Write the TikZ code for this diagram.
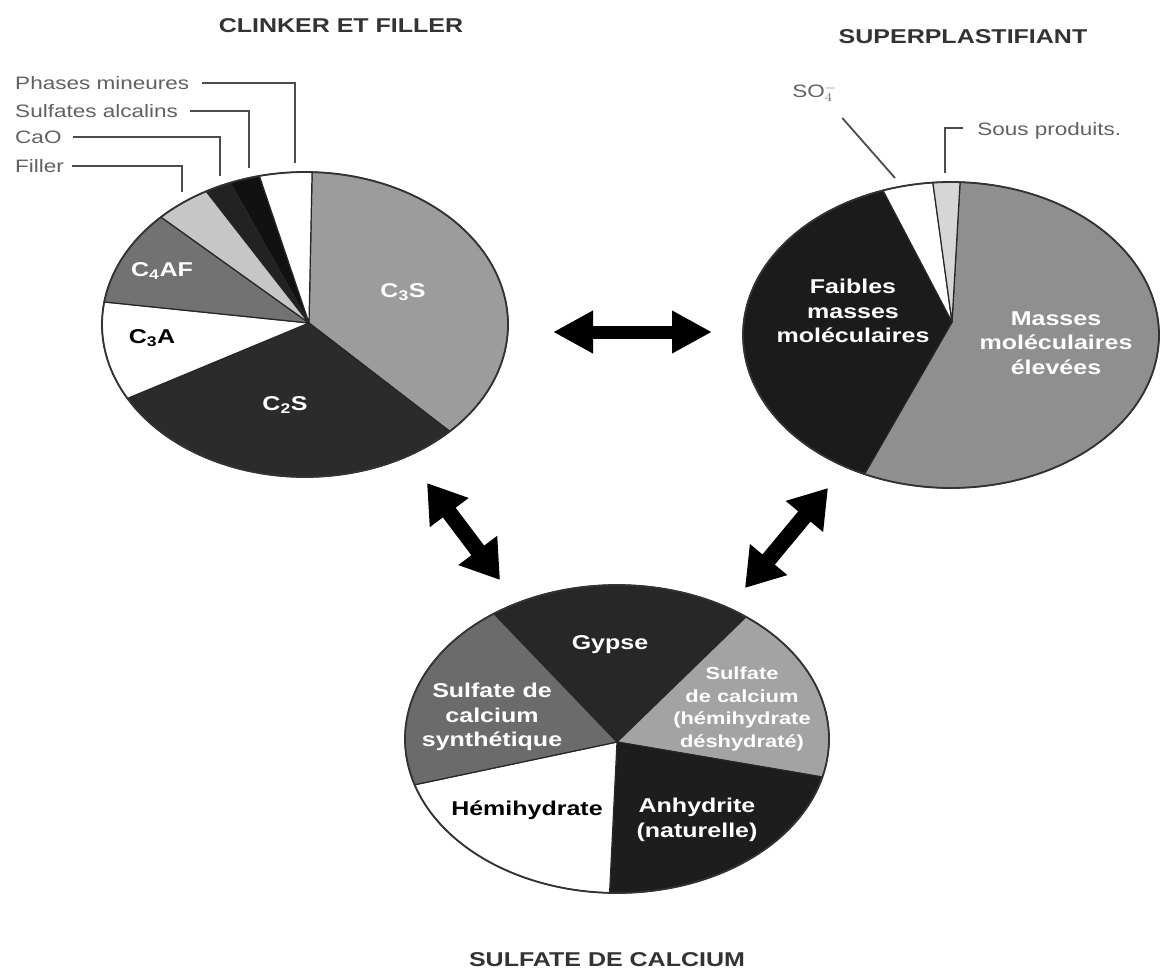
\documentclass[tikz,border=0pt]{standalone}
\usepackage{fontspec}
\setmainfont{Liberation Sans}
\usetikzlibrary{arrows.meta,calc}
\definecolor{gA}{HTML}{9C9C9C}
\definecolor{gB}{HTML}{2B2B2B}
\definecolor{gC}{HTML}{727272}
\definecolor{gD}{HTML}{C6C6C6}
\definecolor{gE}{HTML}{222222}
\definecolor{gF}{HTML}{111111}
\definecolor{gG}{HTML}{8F8F8F}
\definecolor{gH}{HTML}{1B1B1B}
\definecolor{gI}{HTML}{D6D6D6}
\definecolor{gJ}{HTML}{272727}
\definecolor{gK}{HTML}{A3A3A3}
\definecolor{gL}{HTML}{1D1D1D}
\definecolor{gM}{HTML}{6B6B6B}
\newcommand\pieslice[3]{\filldraw[slc,fill=#3] (pv) -- plot[domain=#1:#2,samples=60] ({\pcx+\prx*cos(\x)},{\pcy+\pry*sin(\x)}) -- cycle;}
\newcommand\pierim{\draw[rim] plot[domain=0:360,samples=180] ({\pcx+\prx*cos(\x)},{\pcy+\pry*sin(\x)}) -- cycle;}
\begin{document}
\begin{tikzpicture}[x=1pt,y=-1pt,
  slc/.style={draw=black!85,line width=1.2pt,line join=round},
  rim/.style={draw=black!80,line width=1.8pt},
  lab/.style={font=\bfseries\fontsize{20}{24.5}\selectfont,text=white,align=center,xscale=1.25,inner sep=0pt},
  labk/.style={lab,text=black},
  call/.style={font=\fontsize{18}{20}\selectfont,text=black!62,xscale=1.25,inner sep=0pt,anchor=west},
  leader/.style={draw=black!70,line width=1.8pt},
  ttl/.style={font=\bfseries\fontsize{20}{24}\selectfont,text=black!80,xscale=1.25,inner sep=0pt},
  dbl/.style={line width=13pt,{Triangle[length=40pt,width=40pt]}-{Triangle[length=40pt,width=40pt]}},
  dbld/.style={line width=16pt,{Triangle[length=37pt,width=46pt]}-{Triangle[length=37pt,width=46pt]}}]

\fill[white] (0,0) rectangle (1162,972);
\path[use as bounding box] (0,0) rectangle (1162,972);

% ---------- Pie 1 : clinker et filler ----------
\def\pcx{305}\def\pcy{324.5}\def\prx{203}\def\pry{152.5}
\coordinate (pv) at (309,323);
\pieslice{272}{404.5}{gA}
\pieslice{44.5}{151}{gB}
\pieslice{151}{188.5}{white}
\pieslice{188.5}{224.8}{gC}
\pieslice{224.8}{240.9}{gD}
\pieslice{240.9}{248.4}{gE}
\pieslice{248.4}{257}{gF}
\pieslice{257}{272}{white}
\pierim

\node[lab] (c3s) at (403,292) {C\textsubscript{3}S};
\node[lab] (c2s) at (285,405) {C\textsubscript{2}S};
\node[labk] (c3a) at (152,338) {C\textsubscript{3}A};
\node[lab] (c4af) at (162,271) {C\textsubscript{4}AF};

\node[call] (phm) at (15,83) {Phases mineures};
\node[call] (sal) at (15,111) {Sulfates alcalins};
\node[call] (cao) at (15,137) {CaO};
\node[call] (fil) at (15,166) {Filler};
\coordinate (phmEnd) at (295,163);
\coordinate (salEnd) at (249,168);
\coordinate (caoEnd) at (220,176);
\coordinate (filEnd) at (182,192);
\draw[leader] ([xshift=13pt]phm.east) -| (phmEnd);
\draw[leader] ([xshift=12pt]sal.east) -| (salEnd);
\draw[leader] ([xshift=11pt]cao.east) -| (caoEnd);
\draw[leader] ([xshift=8pt]fil.east) -| (filEnd);

% ---------- Pie 2 : superplastifiant ----------
\def\pcx{951}\def\pcy{335}\def\prx{208}\def\pry{153}
\coordinate (pv) at (952,322);
\pieslice{272.5}{474.6}{gG}
\pieslice{114.6}{250.9}{gH}
\pieslice{250.9}{265}{white}
\pieslice{265}{272.5}{gI}
\pierim

\node[lab] (faib) at (853,311) {Faibles\\masses\\moléculaires};
\node[lab] (mass) at (1056,343) {Masses\\moléculaires\\élevées};

\node[call] (so4) at (792,93) {SO$_4^-$};
\node[call] (sp) at (977,131) {Sous produits.};
\coordinate (so4End) at (895,178);
\coordinate (spEnd) at (945,173);
\draw[leader] ($(so4.east)+(5,25)$) -- (so4End);
\draw[leader] ($(sp.west)+(-14,-3)$) -| (spEnd);

% ---------- Pie 3 : sulfate de calcium ----------
\def\pcx{617}\def\pcy{739}\def\prx{212}\def\pry{154}
\coordinate (pv) at (617,742);
\pieslice{234.5}{307.5}{gJ}
\pieslice{307.5}{374.3}{gK}
\pieslice{14.3}{92}{gL}
\pieslice{92}{162.7}{white}
\pieslice{162.7}{234.5}{gM}
\pierim

\node[lab] (gyp) at (610,645) {Gypse};
\node[lab] (syn) at (492,717) {Sulfate de\\calcium\\synthétique};
\node[lab,font=\bfseries\fontsize{17.5}{22.7}\selectfont] (shd) at (742,709) {Sulfate\\de calcium\\(hémihydrate\\déshydraté)};
\node[labk] (hemi) at (527,810) {Hémihydrate};
\node[lab] (anh) at (697,820) {Anhydrite\\(naturelle)};

% ---------- titles ----------
\node[ttl] (t1) at (341,26) {CLINKER ET FILLER};
\node[ttl] (t2) at (963,37) {SUPERPLASTIFIANT};
\node[ttl] (t3) at (607,960) {SULFATE DE CALCIUM};

% ---------- arrows ----------
\coordinate (hA) at (553,332);
\coordinate (hB) at (712,332);
\coordinate (lA) at (427,483);
\coordinate (lB) at (500,580);
\coordinate (rA) at (828,488);
\coordinate (rB) at (745,588);
\draw[dbl] (hA) -- (hB);
\draw[dbld] (lA) -- (lB);
\draw[dbld] (rA) -- (rB);
\end{tikzpicture}
\end{document}
